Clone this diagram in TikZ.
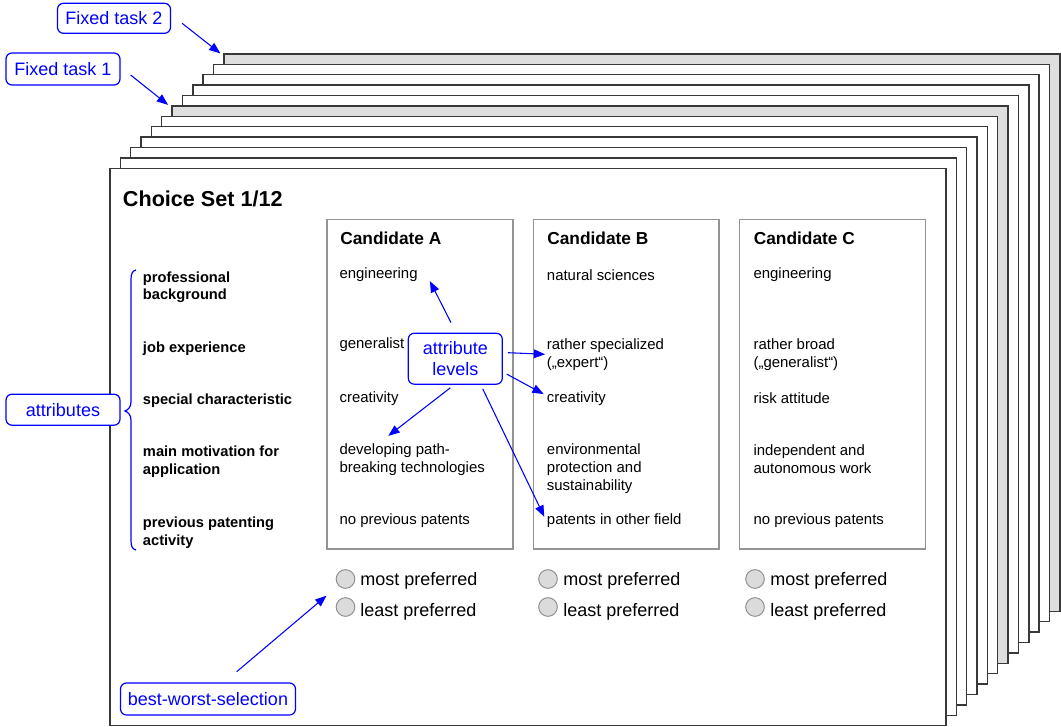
\documentclass[tikz,border=0pt]{standalone}
\usepackage{fontspec}
\setmainfont{Liberation Sans}
\usetikzlibrary{arrows.meta}
\begin{document}
\begin{tikzpicture}[x=0.75pt,y=-0.75pt,
  pagebox/.style={draw=black!78, line width=1.1pt},
  candbox/.style={draw=black!42, line width=1.1pt},
  bluebox/.style={draw=blue, fill=white, text=blue, rounded corners=4.5pt, line width=0.9pt,
    font=\fontsize{13.5}{16}\selectfont, inner sep=0pt, align=center},
  arr/.style={draw=blue, line width=0.8pt, -{Triangle[length=8.5pt,width=6.5pt]}},
  rowlab/.style={anchor=west, inner sep=0pt, align=left, yshift=-1.3pt, font=\bfseries\fontsize{11}{13.1}\selectfont},
  cell/.style={anchor=west, inner sep=0pt, align=left, yshift=-1.2pt, font=\fontsize{11.2}{13.5}\selectfont},
  cand/.style={anchor=west, inner sep=0pt, font=\bfseries\fontsize{13}{15}\selectfont},
  radio/.style={circle, draw=black!45, fill=black!14, minimum size=14pt, inner sep=0pt, line width=0.7pt},
  pref/.style={anchor=west, inner sep=0pt, yshift=-1.3pt, font=\fontsize{13.5}{15}\selectfont},
  bracestyle/.style={draw=blue, line width=0.9pt}
]
\useasboundingbox (0,0) rectangle (1061,727);

% stacked pages (back to front)
\foreach \k in {11,10,...,0}{
  \pgfmathsetmacro\px{110+\k*10.35}
  \pgfmathsetmacro\py{168.3-\k*10.4}
  \ifnum\k=11 \def\fc{black!13}\else\ifnum\k=6 \def\fc{black!13}\else\def\fc{white}\fi\fi
  \draw[pagebox, fill=\fc] (\px,\py) rectangle ++(836,557.4);
}
\coordinate (p7) at (172.1,105.9);
\coordinate (p12) at (223.85,53.9);

% title
\node[anchor=west, inner sep=0pt, font=\bfseries\fontsize{16.2}{18}\selectfont] (title) at (122.7,198.5) {Choice Set 1/12};

% candidate boxes
\draw[candbox] (327,219.5) rectangle (513,549);
\draw[candbox] (533.5,219.5) rectangle (719,549);
\draw[candbox] (739.5,219.5) rectangle (925.5,549);

\node[cand] (hA) at (340,238.8) {Candidate A};
\node[cand] (hB) at (547,238.8) {Candidate B};
\node[cand] (hC) at (753.5,238.8) {Candidate C};

% row labels
\node[rowlab] (r1) at (142.7,285.3) {professional\\background};
\node[rowlab] (r2) at (142.7,347.3) {job experience};
\node[rowlab] (r3) at (142.7,399) {special characteristic};
\node[rowlab] (r4) at (142.7,460) {main motivation for\\application};
\node[rowlab] (r5) at (142.7,531) {previous patenting\\activity};

% candidate A
\node[cell] (a1) at (339.3,273.5) {engineering};
\node[cell] (a2) at (339.3,343) {generalist};
\node[cell] (a3) at (339.3,397) {creativity};
\node[cell] (a4) at (339.3,458) {developing path-\\breaking technologies};
\node[cell] (a5) at (339.3,519) {no previous patents};

% candidate B
\node[cell] (b1) at (546.7,273.5) {natural sciences};
\node[cell] (b2) at (546.7,353) {rather specialized\\(„expert“)};
\node[cell] (b3) at (546.7,397) {creativity};
\node[cell] (b4) at (546.7,467) {environmental\\protection and\\sustainability};
\node[cell] (b5) at (546.7,519) {patents in other field};

% candidate C
\node[cell] (c1) at (753.3,273.5) {engineering};
\node[cell] (c2) at (753.3,353) {rather broad\\(„generalist“)};
\node[cell] (c3) at (753.3,397) {risk attitude};
\node[cell] (c4) at (753.3,458) {independent and\\autonomous work};
\node[cell] (c5) at (753.3,519) {no previous patents};

% radio buttons
\node[radio] (rA1) at (345.5,579) {};
\node[radio] (rA2) at (345.5,607) {};
\node[radio] (rB1) at (548,579) {};
\node[radio] (rB2) at (548,607) {};
\node[radio] (rC1) at (755,579) {};
\node[radio] (rC2) at (755,607) {};
\node[pref] (tA1) at (360,579) {most preferred};
\node[pref] (tA2) at (360,610) {least preferred};
\node[pref] (tB1) at (563,579) {most preferred};
\node[pref] (tB2) at (563,610) {least preferred};
\node[pref] (tC1) at (770,579) {most preferred};
\node[pref] (tC2) at (770,610) {least preferred};

% brace
\draw[bracestyle] (136,270) .. controls (132,271) and (131,274) .. (131,280)
  -- (131,402) .. controls (131,407) and (128,410) .. (125,411)
  .. controls (128,412) and (131,415) .. (131,420)
  -- (131,540) .. controls (131,546) and (132,549) .. (136,550);

% blue labels
\node[bluebox, minimum width=84.75pt, minimum height=22.5pt] (ft2) at (114,18.3) {Fixed task 2};
\node[bluebox, minimum width=85.5pt, minimum height=24pt] (ft1) at (63,69) {Fixed task 1};
\node[bluebox, minimum width=85.5pt, minimum height=23.25pt] (attr) at (63,409.7) {attributes};
\node[bluebox, minimum width=70.5pt, minimum height=38.25pt] (al) at (455.3,358.7) {attribute\\levels};
\node[bluebox, minimum width=131.25pt, minimum height=24pt] (bws) at (208,699) {best-worst-selection};

% arrows
\draw[arr] ([shift={(11,5)}]ft2.east) -- ([shift={(-3.5,-0.5)}]p12);
\draw[arr] ([shift={(10,6)}]ft1.east) -- ([shift={(-4,-1)}]p7);
\draw[arr] ([shift={(-4.3,-10)}]al.north) -- ([shift={(12,6)}]a1.east);
\draw[arr] ([shift={(5,-6)}]al.east) -- ([shift={(-1.5,-0.3)}]b2.west);
\draw[arr] ([shift={(4,15.5)}]al.east) -- ([shift={(-3,-4.5)}]b3.west);
\draw[arr] ([shift={(-5,3)}]al.south) -- ([shift={(49,-7.5)}]a4.north west);
\draw[arr] ([shift={(27.4,4)}]al.south) -- ([shift={(-2.4,-3.8)}]b5.west);
\draw[arr] ([shift={(28.7,-10.7)}]bws.north) -- ([shift={(-19,16.7)}]rA1.center);
\end{tikzpicture}
\end{document}
